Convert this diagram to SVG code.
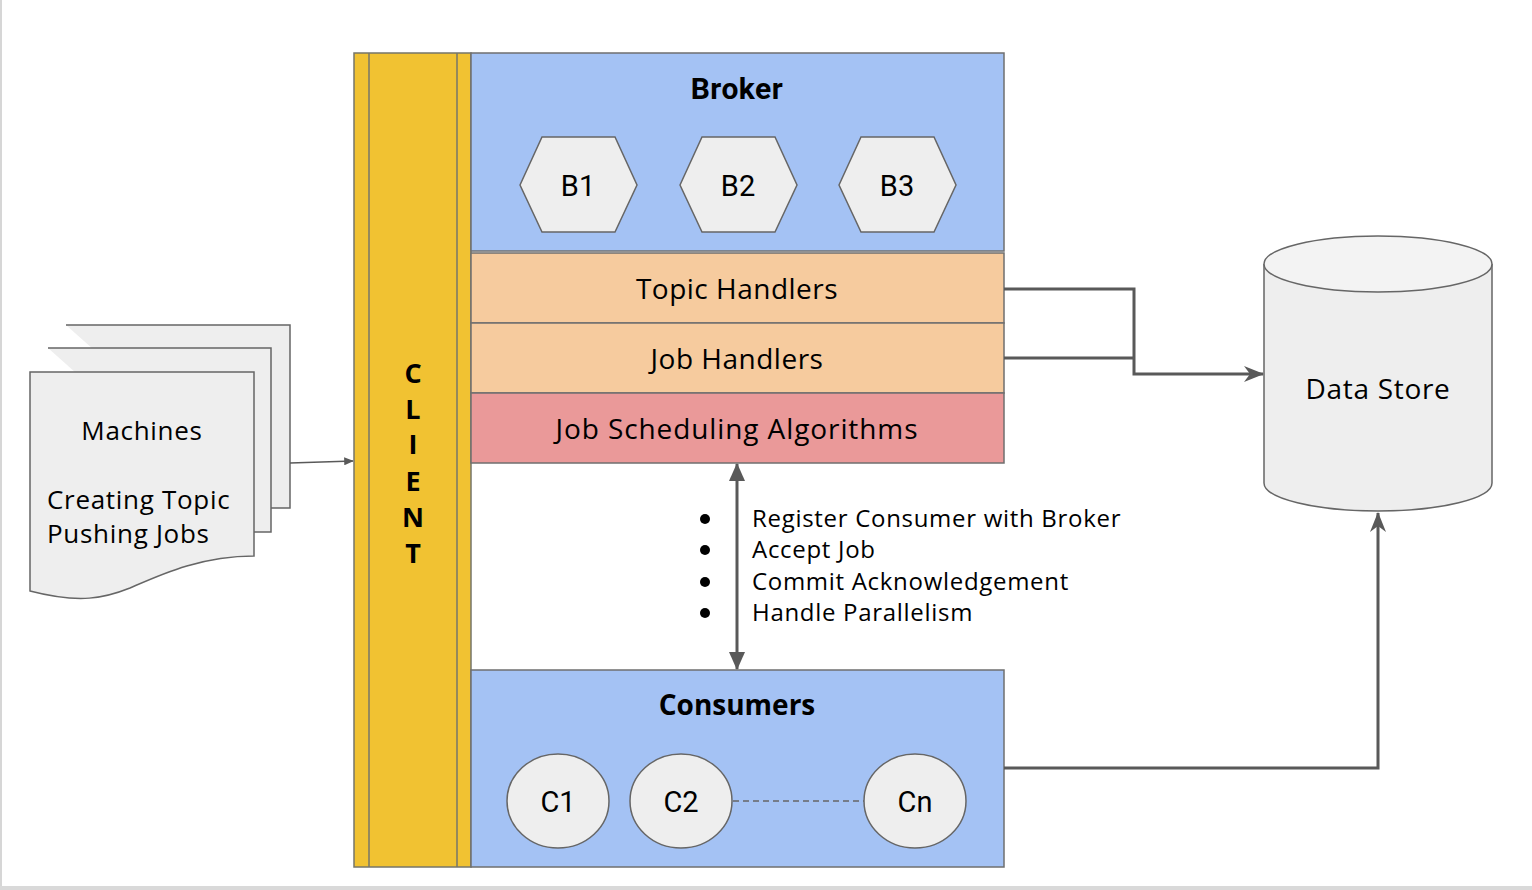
<svg xmlns="http://www.w3.org/2000/svg" width="1532" height="890" viewBox="0 0 1532 890">
<defs>
<style>
.box{stroke:#6f6f6f;stroke-width:1.5}
.blue{fill:#A4C2F4}
.peach{fill:#F6CB9E}
.red{fill:#EA9999}
.gold{fill:#F1C232;stroke:#76766a;stroke-width:1.5}
.node{fill:#EEEEEE;stroke:#666666;stroke-width:1.5}
.t{font-family:"Open Sans",Lato,"Liberation Sans",sans-serif;fill:#000}
.ls{letter-spacing:0.7px}
.r{font-family:Roboto,"Liberation Sans",sans-serif;fill:#000}
.c{text-anchor:middle}
.conn{fill:none;stroke:#595959;stroke-width:3}
</style>
<marker id="ah3" viewBox="0 0 12 10" refX="11" refY="5" markerWidth="10" markerHeight="8" markerUnits="userSpaceOnUse" orient="auto-start-reverse">
<path d="M0,0 L12,5 L0,10 Z" fill="#595959"/>
</marker>
<marker id="ahc" viewBox="0 0 20 16" refX="19" refY="8" markerWidth="20" markerHeight="16" markerUnits="userSpaceOnUse" orient="auto-start-reverse">
<path d="M0,0 L20,8 L0,16 L6,8 Z" fill="#595959"/>
</marker>
<marker id="aht" viewBox="0 0 18 16" refX="17" refY="8" markerWidth="18" markerHeight="16" markerUnits="userSpaceOnUse" orient="auto-start-reverse">
<path d="M0,0 L18,8 L0,16 Z" fill="#595959"/>
</marker>
</defs>
<rect x="0" y="0" width="1532" height="890" fill="#ffffff"/>
<rect x="0" y="0" width="2" height="890" fill="#d6d6d6"/>
<rect x="0" y="886" width="1532" height="4" fill="#d9d9d9"/>

<g id="machines">
<path class="node" d="M66,325 H290 V508 H271"/>
<path class="node" d="M48,348 H271 V532 H254"/>
<path class="node" d="M30,372 H254 V556 C200,556 160,575 130,588 C105,598 80,604 30,591 Z"/>
<text class="t c ls" x="142" y="440" font-size="26">Machines</text>
<text class="t ls" x="47" y="509" font-size="26">Creating Topic</text>
<text class="t ls" x="47" y="543" font-size="26">Pushing Jobs</text>
</g>

<g id="client">
<rect class="gold" x="354" y="53" width="117" height="814"/>
<line x1="369" y1="53" x2="369" y2="867" stroke="#76766a" stroke-width="1.5"/>
<line x1="457" y1="53" x2="457" y2="867" stroke="#76766a" stroke-width="1.5"/>
<g class="t c" font-size="27" font-weight="bold">
<text x="413" y="383">C</text>
<text x="413" y="419">L</text>
<text x="413" y="454">I</text>
<text x="413" y="491">E</text>
<text x="413" y="527">N</text>
<text x="413" y="563">T</text>
</g>
</g>

<g id="broker">
<rect class="box blue" x="471" y="53" width="533" height="198"/>
<text class="r c" x="737" y="99" font-size="30" font-weight="bold" letter-spacing="0.5">Broker</text>
</g>
<g id="b1">
<polygon class="node" points="520,185 542,137 615,137 637,185 615,232 542,232"/>
<text class="r c" x="578" y="196" font-size="29">B1</text>
</g>
<g id="b2">
<polygon class="node" points="680,185 702,137 775,137 797,185 775,232 702,232"/>
<text class="r c" x="738" y="196" font-size="29">B2</text>
</g>
<g id="b3">
<polygon class="node" points="839,185 861,137 934,137 956,185 934,232 861,232"/>
<text class="r c" x="897" y="196" font-size="29">B3</text>
</g>

<g id="topic-handlers">
<rect class="box peach" x="471" y="253" width="533" height="70"/>
<text class="t c" x="737" y="299" font-size="28" letter-spacing="0.5">Topic Handlers</text>
</g>
<g id="job-handlers">
<rect class="box peach" x="471" y="323" width="533" height="70"/>
<text class="t c" x="737" y="369" font-size="28" letter-spacing="0.5">Job Handlers</text>
</g>
<g id="job-scheduling">
<rect class="box red" x="471" y="393" width="533" height="70"/>
<text class="t c" x="737" y="439" font-size="28" letter-spacing="0.9">Job Scheduling Algorithms</text>
</g>

<g id="label-list">
<g fill="#000">
<circle cx="705" cy="519" r="5"/>
<circle cx="705" cy="550" r="5"/>
<circle cx="705" cy="582" r="5"/>
<circle cx="705" cy="613" r="5"/>
</g>
<g class="t ls" font-size="24">
<text x="752" y="527">Register Consumer with Broker</text>
<text x="752" y="558">Accept Job</text>
<text x="752" y="590">Commit Acknowledgement</text>
<text x="752" y="621">Handle Parallelism</text>
</g>
</g>

<g id="consumers">
<rect class="box blue" x="471" y="670" width="533" height="197"/>
<text class="t c" x="737" y="715" font-size="28" font-weight="bold">Consumers</text>
</g>
<g id="c1">
<ellipse class="node" cx="558" cy="801" rx="51" ry="47"/>
<text class="r c" x="558" y="812" font-size="29">C1</text>
</g>
<g id="c2">
<ellipse class="node" cx="681" cy="801" rx="51" ry="47"/>
<text class="r c" x="681" y="812" font-size="29">C2</text>
</g>
<g id="cn">
<ellipse class="node" cx="915" cy="801" rx="51" ry="47"/>
<text class="r c" x="915" y="812" font-size="29">Cn</text>
</g>

<g id="data-store">
<path class="node" d="M1264,264 V483 A114,28 0 0 0 1492,483 V264"/>
<ellipse cx="1378" cy="264" rx="114" ry="28" fill="#F3F3F3" stroke="#666666" stroke-width="1.5"/>
<text class="t c ls" x="1378" y="399" font-size="28">Data Store</text>
</g>

<g id="connectors">
<path class="conn" d="M290,463 L353,461" style="stroke-width:1.5" marker-end="url(#ah3)"/>
<path class="conn" d="M1004,289 H1134 V374 H1263" marker-end="url(#ahc)"/>
<path class="conn" d="M1004,358 H1134"/>
<path class="conn" d="M1004,768 H1378 V513" marker-end="url(#ahc)"/>
<path class="conn" d="M737,464 V669" marker-start="url(#aht)" marker-end="url(#aht)"/>
<path d="M733,801 H864" fill="none" stroke="#666666" stroke-width="1.3" stroke-dasharray="6,4"/>
</g>
</svg>
